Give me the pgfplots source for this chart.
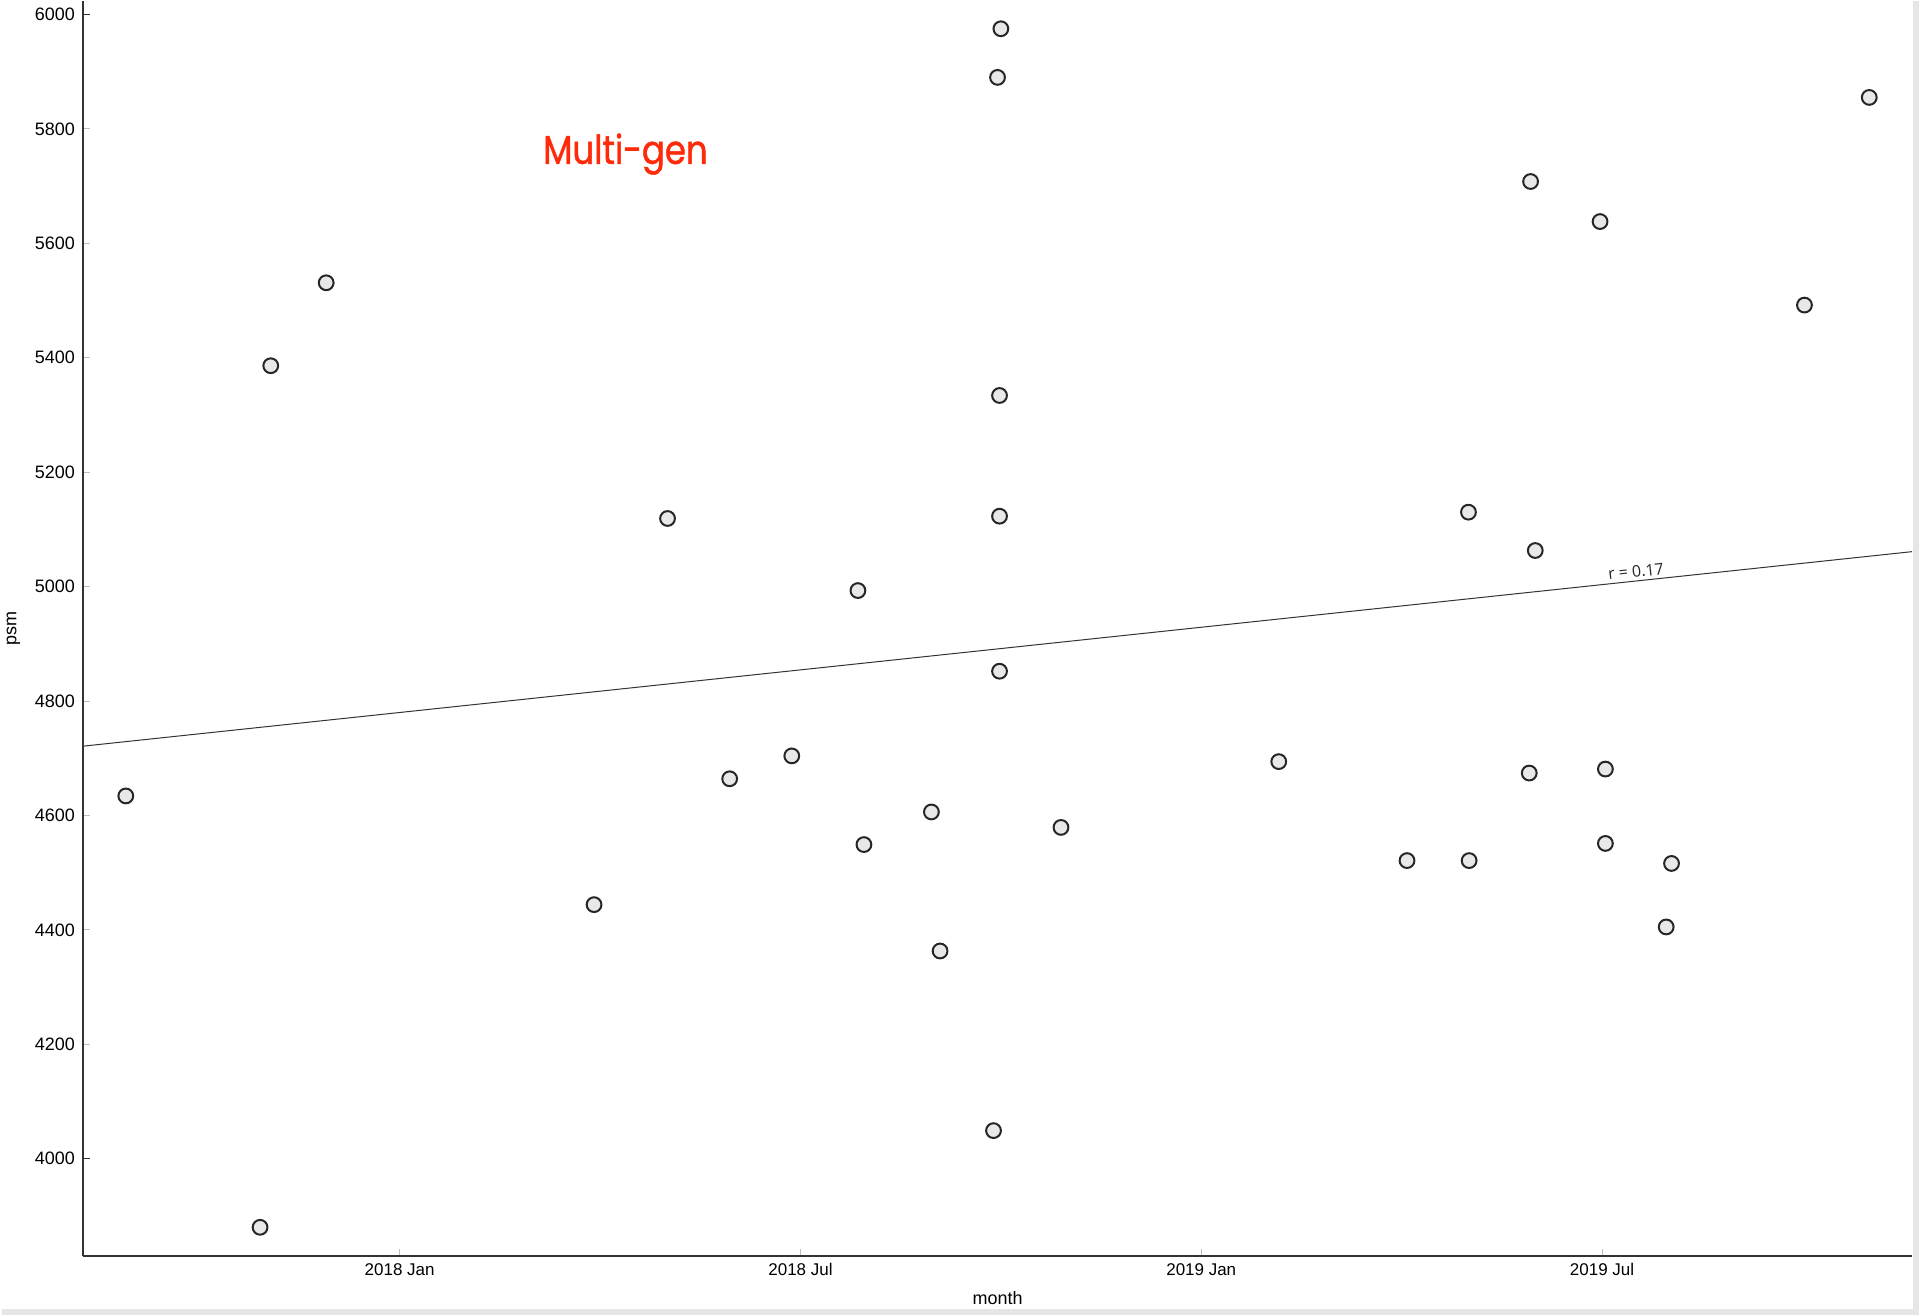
\documentclass[border=0pt]{standalone}
\usepackage{pgfplots}
\pgfplotsset{compat=1.18}
\usepackage{pgfplotstable}
\usepackage{fontspec}
\setmainfont{Liberation Sans}
\newfontfamily\poppins[FakeStretch=0.85, FakeBold=1.2]{Poppins}
\newfontfamily\opensans{Open Sans}

\definecolor{spine}{HTML}{333333}
\definecolor{ptfill}{HTML}{E8E8E8}
\definecolor{titlered}{HTML}{FF2A0A}
\definecolor{frame}{HTML}{E6E6E6}

% x = months since 2018 Jan, y = psm
\pgfplotstableread{
m v
-4.10 4634
-2.09 3880
-1.93 5386
-1.10 5531
2.91 4444
4.01 5119
4.94 4664
5.87 4704
6.86 4993
6.95 4549
7.96 4606
8.09 4363
8.89 4049
8.95 5890
9.00 5975
8.98 5334
8.98 5123
8.98 4852
9.90 4579
13.16 4694
15.08 4521
16.00 5130
16.01 4521
16.93 5708
16.91 4674
17.00 5063
17.97 5638
18.05 4681
18.05 4551
18.96 4405
19.04 4516
21.03 5492
22.00 5855
}\psmdata

\begin{document}
\begin{tikzpicture}
\begin{axis}[
  scale only axis,
  width=915.6pt, height=628.5pt,
  xmin=-4.74, xmax=22.64,
  ymin=3829.5, ymax=6024,
  axis x line*=bottom, axis y line*=left,
  axis line style={spine, line width=0.75pt, -},
  xtick={0,6,12,18},
  xticklabels={2018 Jan, 2018 Jul, 2019 Jan, 2019 Jul},
  ytick={4000,4200,...,6000},
  extra y ticks={4000,6000},
  extra y tick labels={},
  extra y tick style={major tick style={spine, line width=0.5pt}},
  tick align=inside,
  major tick length=3.5pt,
  major tick style={gray!50, line width=0.4pt},
  minor tick num=0,
  xticklabel style={font=\fontsize{8.5}{10}\selectfont, black},
  yticklabel style={font=\fontsize{9}{10}\selectfont, black, xshift=-0.5pt},
  scaled y ticks=false,
  /pgf/number format/assume math mode=true,
  /pgf/number format/1000 sep={},
  xlabel={month},
  ylabel={psm},
  label style={font=\fontsize{9}{10}\selectfont},
  xlabel style={at={(axis description cs:0.5,0)}, anchor=north, yshift=-14pt},
  ylabel style={at={(axis description cs:0,0.5)}, anchor=south, yshift=28pt},
  clip=false,
]
\addplot[only marks, mark=*, mark size=3.7pt,
  mark options={fill=ptfill, draw=black!85, line width=1pt}]
  table[x=m, y=v] {\psmdata};
\addplot[black!80, line width=0.5pt] coordinates {(-4.74,4721) (22.64,5061)};
\node[anchor=south, rotate=6, text=black!85, font=\opensans\fontsize{8}{9}\selectfont, inner sep=1pt]
  at (axis cs:18.52,5012) {r = 0.17};
\node[text=titlered, font=\poppins\fontsize{20}{24}\selectfont]
  at (axis cs:3.38,5756) {Multi-gen};
\end{axis}
\fill[frame] (-40.4pt,-29.5pt) rectangle (919.1pt,-26.5pt);
\fill[frame] (916.1pt,-29.5pt) rectangle (919.1pt,628.5pt);
\path (-40.4pt,-29.5pt) rectangle (919.1pt,628.5pt);
\end{tikzpicture}
\end{document}
